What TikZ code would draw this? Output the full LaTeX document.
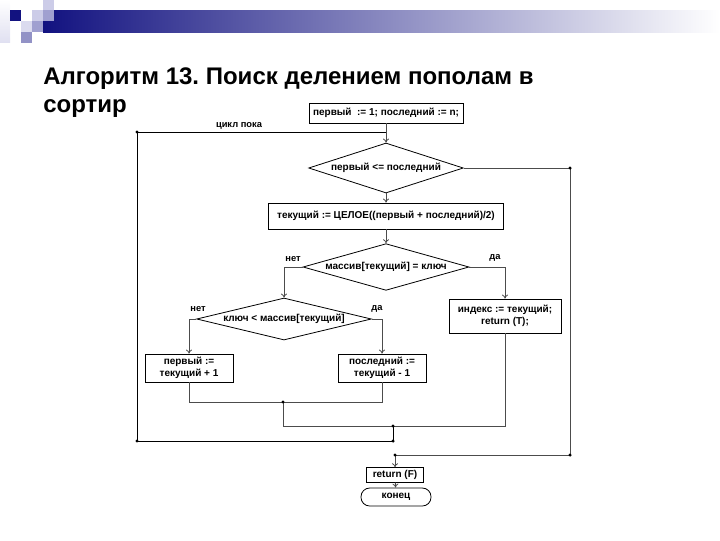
\documentclass[tikz,border=0pt]{standalone}
\usepackage{fontspec}
\setmainfont{Liberation Sans}
\usetikzlibrary{arrows,arrows.meta,shapes,positioning}
\frenchspacing

\definecolor{navybar}{RGB}{18,18,128}
\definecolor{lilac}{RGB}{204,204,232}
\definecolor{lilacmid}{RGB}{160,160,208}
\definecolor{lilacdark}{RGB}{146,146,198}

\begin{document}
\begin{tikzpicture}[
  x=0.75pt, y=-0.75pt,
  box/.style={rectangle, draw=black, line width=0.6pt, fill=white, inner sep=1pt, align=center, font=\fontsize{7.5}{9}\selectfont\bfseries},
  cond/.style={diamond, draw=black, line width=0.6pt, fill=white, inner sep=0pt, font=\fontsize{7.5}{9}\selectfont\bfseries},
  term/.style={rectangle, rounded corners=6.5pt, draw=black, line width=0.6pt, fill=white, font=\fontsize{7.5}{9}\selectfont\bfseries},
  lbl/.style={font=\fontsize{7}{8}\selectfont\bfseries},
  arrow/.style={-{To[length=3pt,width=4.5pt]}, draw=black!70, line width=0.6pt},
  link/.style={draw=black!70, line width=0.6pt},
  loop/.style={draw=black, line width=0.6pt}
]
\useasboundingbox (0,0) rectangle (720,540);

% Header bar and squares
\shade[left color=navybar, right color=white] (43,10) rectangle (720,32);
\shade[top color=white, bottom color=lilac!60] (0,0) rectangle (10,42);
\fill[navybar] (10,10) rectangle (21,21);
\fill[lilac] (32,10) rectangle (43,21);
\fill[lilac] (43,0) rectangle (54,10);
\fill[lilacmid] (43,10) rectangle (54,21);
\fill[lilac!70] (21,21) rectangle (32,32);
\fill[lilacmid] (32,21) rectangle (43,32);
\fill[lilacdark] (21,32) rectangle (32,43);

% Title
\node[anchor=base west, inner sep=0pt, font=\fontsize{18}{22}\selectfont\bfseries] (title) at (43,84) {Алгоритм 13. Поиск делением пополам в};
\node[anchor=base west, inner sep=0pt, font=\fontsize{18}{22}\selectfont\bfseries] (title2) at (43,112) {сортир};

% Blocks
\node[box, minimum width=115.5pt, minimum height=15pt] (init) at (386,113) {первый~ := 1; последний := n;};
\node[cond, aspect=3.1, minimum width=116pt, minimum height=37.5pt] (check) at (386,168) {первый <= последний};
\node[box, minimum width=176pt, minimum height=19.5pt] (mid) at (386,216) {текущий := ЦЕЛОЕ((первый + последний)/2)};
\node[cond, aspect=3.5, minimum width=124.5pt, minimum height=35pt] (equal) at (386,267) {массив[текущий] = ключ};
\node[box, minimum width=84pt, minimum height=25.5pt] (index) at (505,316) {индекс := текущий;\\ return (T);};
\node[cond, aspect=4.2, minimum width=131pt, minimum height=31.5pt] (less) at (284,319) {ключ < массив[текущий]};
\node[box, minimum width=66pt, minimum height=21pt] (lower) at (189,368) {первый :=\\ текущий + 1};
\node[box, minimum width=66pt, minimum height=21pt] (upper) at (382,368) {последний :=\\ текущий - 1};
\node[box, minimum width=43pt, minimum height=11pt] (fail) at (395,475) {return (F)};
\node[term, minimum width=52.5pt, minimum height=13.5pt] (stop) at (396,497) {конец};

% Junctions
\coordinate (loopTL) at (137,132);
\coordinate (loopBL) at (137,441);
\coordinate (exitR) at (570,168);
\coordinate (exitBR) at (570,455);
\coordinate (exitB) at (395,455);
\coordinate (join1) at (283,402);
\coordinate (join2) at (393,426);
\coordinate (join3) at (393,441);

% Connectors
\draw[arrow] (init) -- (check);
\draw[arrow] (check) -- (mid);
\draw[arrow] (mid) -- (equal);
\draw[arrow] (equal.west) -| (less.north);
\draw[arrow] (equal.east) -| (index);
\draw[arrow] (less.west) -| (lower);
\draw[arrow] (less.east) -| (upper);
\draw[link] (lower) |- (join1) -| (upper);
\draw[link] (join1) |- (index.south |- join2) -- (index);
\draw[loop] (join2) -- (join3) -- (loopBL) -- (loopTL) -- (init.south |- loopTL);
\draw[link] (check.east) -- (exitR) -- (exitBR) -- (exitB);
\draw[arrow] (exitB) -- (fail);
\draw[arrow] (fail) -- (stop);
\fill (loopTL) circle (1.3pt) (loopBL) circle (1.3pt) (exitR) circle (1.3pt) (exitBR) circle (1.3pt)
  (exitB) circle (1.3pt) (join1) circle (1.3pt) (join2) circle (1.3pt) (join3) circle (1.3pt);

% Branch labels
\node[lbl] (cyc) at (239,126) {цикл пока};
\node[lbl] (noA) at (293,259) {нет};
\node[lbl] (yesA) at (495,258) {да};
\node[lbl] (noB) at (198,309) {нет};
\node[lbl] (yesB) at (377,309) {да};

\end{tikzpicture}
\end{document}
